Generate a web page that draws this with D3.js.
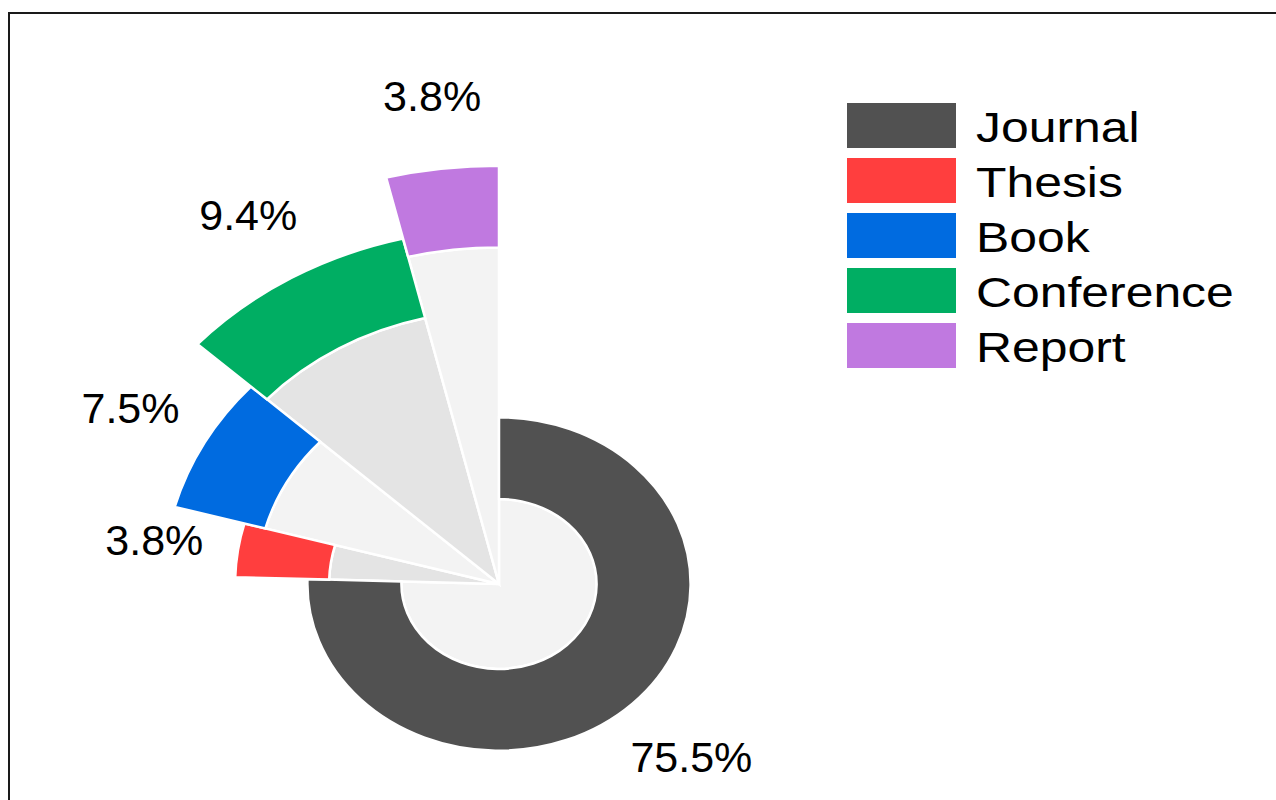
<!DOCTYPE html>
<html lang="en">
<head>
<meta charset="utf-8">
<title>Publication types</title>
<style>
  body { margin: 0; background: #fff; }
  svg { display: block; }
  text { font-family: "Liberation Sans", Arial, sans-serif; fill: #000; }
</style>
<script src="https://cdn.jsdelivr.net/npm/d3@7"></script>
</head>
<body>
<div id="chart"></div>
<script>
// data
var categories = ["Journal", "Thesis", "Book", "Conference", "Report"];
var counts = [40, 2, 4, 5, 2];
var colors = ["#515151", "#ff3e3e", "#006be0", "#00ae63", "#c079e0"];
var baseFills = ["#f3f3f3", "#e4e4e4", "#f3f3f3", "#e4e4e4", "#f3f3f3"];

var w = 1276, h = 800;
var cx = 499, cy = 584;
var squash = 0.87;   // the polar panel is stretched wider than tall

var total = d3.sum(counts);
var data = categories.map(function(c, i) {
  return { name: c, count: counts[i], pct: counts[i] / total, i: i };
});

var pie = d3.pie().value(function(d) { return d.count; }).sort(null);
var arcsData = pie(data);

// radial scale in ring units
var r = d3.scaleLinear().domain([0, 1]).range([0, 72.3]);
var ringStart = 1.35, ringWidth = 1.3, labelGap = 1.17;

var svg = d3.select('#chart').append('svg')
  .attr('width', w)
  .attr('height', h);

svg.append('rect')
  .attr('x', 9).attr('y', 13)
  .attr('width', w + 20).attr('height', h + 20)
  .attr('fill', 'none')
  .attr('stroke', '#1a1a1a')
  .attr('stroke-width', 2);

var g = svg.append('g')
  .attr('transform', 'translate(' + cx + ',' + cy + ') scale(1,' + squash + ')');

var baseArc = d3.arc()
  .innerRadius(0)
  .outerRadius(function(d) { return r(d.data.i + ringStart); });

var ringArc = d3.arc()
  .innerRadius(function(d) { return r(d.data.i + ringStart); })
  .outerRadius(function(d) { return r(d.data.i + ringStart + ringWidth); });

g.selectAll('path.base')
  .data(arcsData)
  .enter()
  .append('path')
  .attr('class', 'base')
  .attr('d', baseArc)
  .attr('fill', function(d) { return baseFills[d.data.i]; })
  .attr('stroke', '#fff')
  .attr('stroke-width', 2.5)
  .attr('vector-effect', 'non-scaling-stroke');

g.selectAll('path.ring')
  .data(arcsData)
  .enter()
  .append('path')
  .attr('class', 'ring')
  .attr('d', ringArc)
  .attr('fill', function(d) { return colors[d.data.i]; })
  .attr('stroke', '#fff')
  .attr('stroke-width', 2.5)
  .attr('vector-effect', 'non-scaling-stroke');

// percentage labels outside each ring
var fmt = d3.format('.1%');
svg.selectAll('text.pct')
  .data(arcsData)
  .enter()
  .append('text')
  .attr('class', 'pct')
  .attr('x', function(d) {
    var a = (d.startAngle + d.endAngle) / 2;
    return cx + r(d.data.i + ringStart + ringWidth + labelGap) * Math.sin(a);
  })
  .attr('y', function(d) {
    var a = (d.startAngle + d.endAngle) / 2;
    return cy - r(d.data.i + ringStart + ringWidth + labelGap) * Math.cos(a) * squash;
  })
  .attr('dy', '0.36em')
  .attr('text-anchor', 'middle')
  .style('font-size', '43px')
  .text(function(d) { return fmt(d.data.pct); });

// legend
var legend = svg.selectAll('.legend')
  .data(data)
  .enter()
  .append('g')
  .attr('class', 'legend')
  .attr('transform', function(d, i) { return 'translate(847,' + (103 + i * 55) + ')'; });

legend.append('rect')
  .attr('width', 109)
  .attr('height', 45)
  .attr('fill', function(d) { return colors[d.i]; });

// legend text is drawn a little wider than the labels in the original
legend.append('text')
  .attr('transform', 'translate(129,39) scale(1.16,1)')
  .style('font-size', '43px')
  .text(function(d) { return d.name; });
</script>
</body>
</html>
